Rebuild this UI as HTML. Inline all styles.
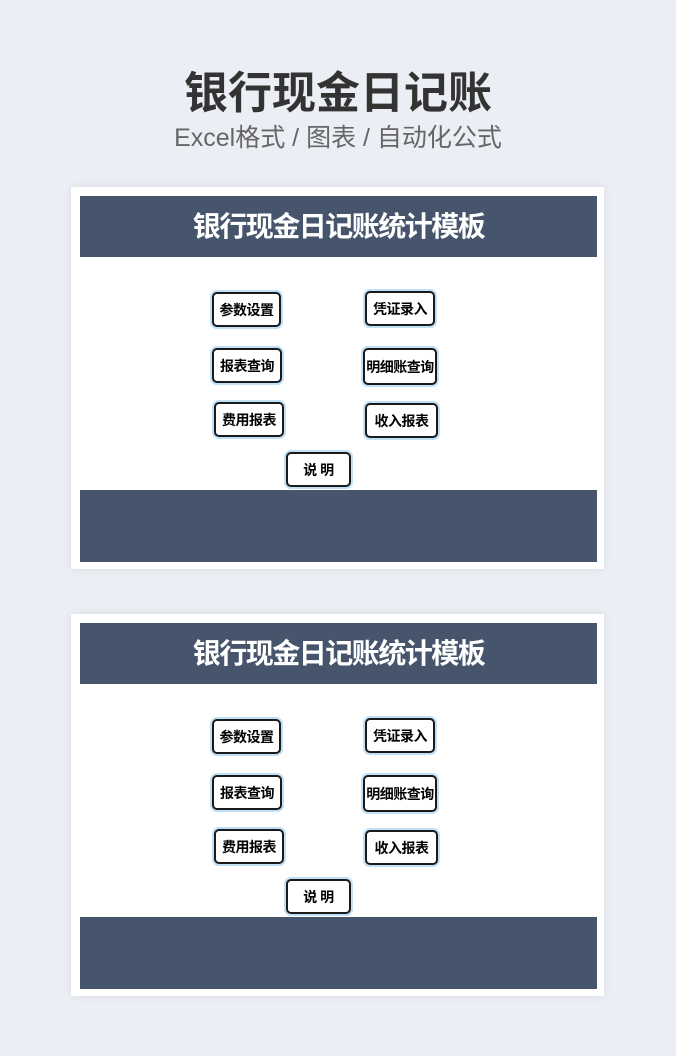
<!DOCTYPE html><html><head><meta charset="utf-8"><style>
body{margin:0;width:676px;height:1056px;background:#ebeef4;font-family:"Liberation Sans","Noto Sans CJK SC",sans-serif;position:relative;overflow:hidden}
.t{position:absolute;left:0;width:676px;text-align:center}
.card{position:absolute;left:71px;width:533px;height:382px;background:#fff;box-shadow:0 0 8px rgba(0,0,0,.08)}
.band{position:absolute;left:9px;width:517px;background:#46556b}
.h{top:9px;height:61px;color:#fff;font-size:28px;font-weight:bold;text-align:center;line-height:61px;letter-spacing:-1.5px}
.f{top:303px;height:72px}
.b{position:absolute;box-sizing:border-box;border:2px solid #1a1a1a;border-radius:5px;box-shadow:0 0 0 2px #bfe0f7;background:#fff;font-size:14px;font-weight:bold;display:flex;align-items:center;justify-content:center;color:#000;letter-spacing:-0.5px}
</style></head><body>
<div class="t" style="top:64px;font-size:44px;font-weight:bold;color:#333;line-height:60px">银行现金日记账</div>
<div class="t" style="top:121px;font-size:25px;color:#666;line-height:34px">Excel格式 / 图表 / 自动化公式</div>
<div class="card" style="top:187px">
<div class="band h">银行现金日记账统计模板</div><div class="band f"></div>
<div class="b" style="left:141px;top:105px;width:69px;height:35px">参数设置</div>
<div class="b" style="left:294px;top:104px;width:70px;height:35px">凭证录入</div>
<div class="b" style="left:141px;top:161px;width:70px;height:35px">报表查询</div>
<div class="b" style="left:292px;top:161px;width:74px;height:37px">明细账查询</div>
<div class="b" style="left:143px;top:215px;width:70px;height:35px">费用报表</div>
<div class="b" style="left:294px;top:216px;width:73px;height:35px">收入报表</div>
<div class="b" style="left:215px;top:265px;width:65px;height:35px">说 明</div>
</div>
<div class="card" style="top:614px">
<div class="band h">银行现金日记账统计模板</div><div class="band f"></div>
<div class="b" style="left:141px;top:105px;width:69px;height:35px">参数设置</div>
<div class="b" style="left:294px;top:104px;width:70px;height:35px">凭证录入</div>
<div class="b" style="left:141px;top:161px;width:70px;height:35px">报表查询</div>
<div class="b" style="left:292px;top:161px;width:74px;height:37px">明细账查询</div>
<div class="b" style="left:143px;top:215px;width:70px;height:35px">费用报表</div>
<div class="b" style="left:294px;top:216px;width:73px;height:35px">收入报表</div>
<div class="b" style="left:215px;top:265px;width:65px;height:35px">说 明</div>
</div>
</body></html>
